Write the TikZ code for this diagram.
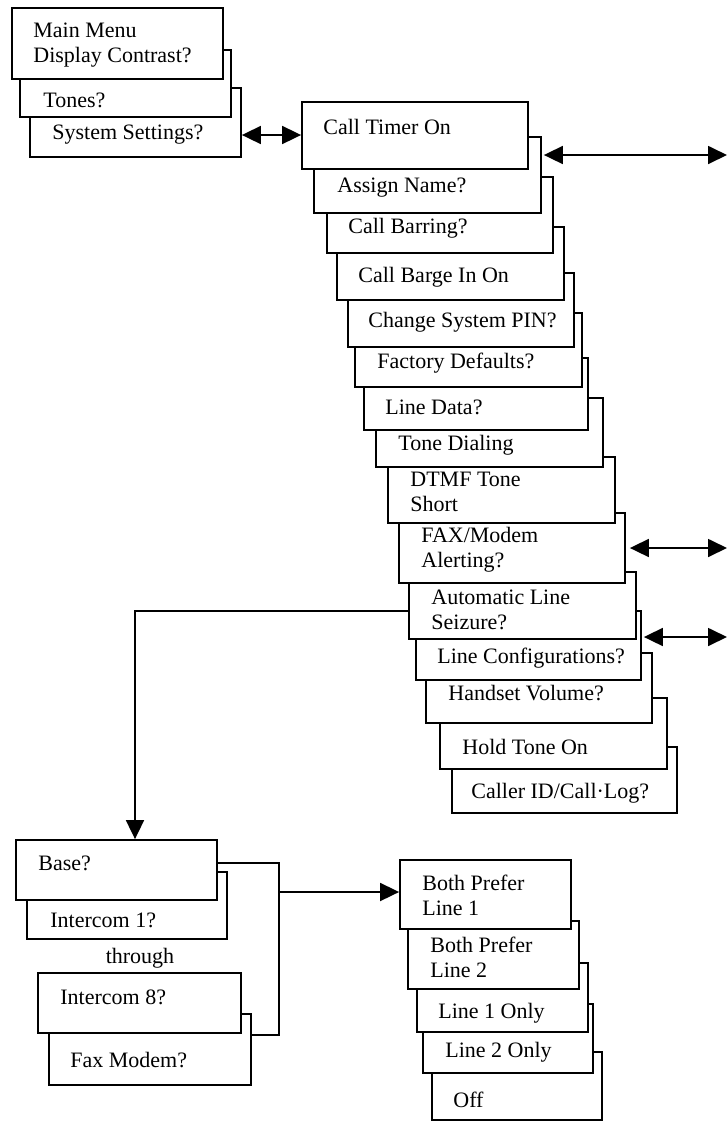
\documentclass[tikz,border=0pt]{standalone}
\usepackage{fontspec}
\setmainfont{Liberation Serif}
\usetikzlibrary{arrows.meta,fit}
\tikzset{>={Triangle[length=9.5pt,width=9pt]}}
\tikzset{card/.style={draw,fill=white,line width=0.9pt,inner sep=0pt},
  lbl/.style={anchor=west,inner sep=0pt,align=left,font=\fontsize{11}{12.5}\selectfont},
  link/.style={line width=0.9pt}}

\begin{document}
\begin{tikzpicture}[x=0.5pt,y=-0.5pt]
  \useasboundingbox (0,0) rectangle (727,1121);

  % main menu stack
  \node[card,fit={(30,88) (241,157)}] (ss) {};
  \node[lbl] (ss-t) at (52,135) {System Settings?};
  \node[card,fit={(20,50) (231,117)}] (tn) {};
  \node[lbl] (tn-t) at (43,100) {Tones?};
  \node[card,fit={(12,8) (223,79)}] (mm) {};
  \node[lbl] (mm-t) at (33,45.5) {Main Menu\\Display Contrast?};

  % system settings stack
  \node[card,fit={(452,747) (677,813)}] (ci) {};
  \node[lbl] (ci-t) at (471,793) {Caller ID/Call·Log?};
  \node[card,fit={(440,698) (667,769)}] (ht) {};
  \node[lbl] (ht-t) at (462,747) {Hold Tone On};
  \node[card,fit={(426,653) (652,723)}] (hv) {};
  \node[lbl] (hv-t) at (448,693) {Handset Volume?};
  \node[card,fit={(416,611) (641,680)}] (lc) {};
  \node[lbl] (lc-t) at (437,658) {Line Configurations?};
  \node[card,fit={(409,572) (636,639)}] (al) {};
  \node[lbl] (al-t) at (431,609.5) {Automatic Line\\Seizure?};
  \node[card,fit={(399,513) (625,583)}] (fm) {};
  \node[lbl] (fm-t) at (421,550) {FAX/Modem\\Alerting?};
  \node[card,fit={(388,457) (615,523)}] (dt) {};
  \node[lbl] (dt-t) at (410,492) {DTMF Tone\\Short};
  \node[card,fit={(376,398) (603,467)}] (td) {};
  \node[lbl] (td-t) at (398,445) {Tone Dialing};
  \node[card,fit={(364,358) (588,430)}] (ld) {};
  \node[lbl] (ld-t) at (385,407) {Line Data?};
  \node[card,fit={(355,313) (582,387)}] (fd) {};
  \node[lbl] (fd-t) at (377,363) {Factory Defaults?};
  \node[card,fit={(348,273) (574,347)}] (pin) {};
  \node[lbl] (pin-t) at (368,322) {Change System PIN?};
  \node[card,fit={(337,227) (564,300)}] (bi) {};
  \node[lbl] (bi-t) at (358,277) {Call Barge In On};
  \node[card,fit={(327,177) (553,253)}] (cb) {};
  \node[lbl] (cb-t) at (348,228) {Call Barring?};
  \node[card,fit={(314,137) (541,213)}] (an) {};
  \node[lbl] (an-t) at (337,188) {Assign Name?};
  \node[card,fit={(302,102) (528,169)}] (ct) {};
  \node[lbl] (ct-t) at (323,127) {Call Timer On};

  % base stack
  \node[card,fit={(49,1014) (251,1085)}] (fx) {};
  \node[lbl] (fx-t) at (70,1060) {Fax Modem?};
  \node[card,fit={(38,973) (241,1033)}] (i8) {};
  \node[lbl] (i8-t) at (60,997) {Intercom 8?};
  \node[lbl,anchor=center] (thr) at (140,958) {through};
  \node[card,fit={(27,872) (227,939)}] (i1) {};
  \node[lbl] (i1-t) at (50,920) {Intercom 1?};
  \node[card,fit={(16,840) (217,900)}] (bs) {};
  \node[lbl] (bs-t) at (38,863) {Base?};

  % line preference stack
  \node[card,fit={(432,1052) (602,1120)}] (off) {};
  \node[lbl] (off-t) at (453,1100) {Off};
  \node[card,fit={(423,1004) (593,1073)}] (l2) {};
  \node[lbl] (l2-t) at (445,1052) {Line 2 Only};
  \node[card,fit={(417,963) (588,1032)}] (l1) {};
  \node[lbl] (l1-t) at (438,1013) {Line 1 Only};
  \node[card,fit={(408,921) (579,989)}] (bp2) {};
  \node[lbl] (bp2-t) at (430,957) {Both Prefer\\Line 2};
  \node[card,fit={(400,860) (571,929)}] (bp1) {};
  \node[lbl] (bp1-t) at (422,895) {Both Prefer\\Line 1};

  % connectors
  \coordinate (r1) at (727,155);
  \coordinate (r2) at (727,548);
  \coordinate (r3) at (727,637);
  \coordinate (k1) at (135,611);
  \coordinate (k2) at (279,892);
  \coordinate (k3) at (279,1035);

  \draw[link,<->] (ss.east |- ss-t) -- (ct.west |- ss-t);
  \draw[link,<->,shorten <=1pt] (an.east |- r1) -- (r1);
  \draw[link,<->,shorten <=2pt] (fm.east |- r2) -- (r2);
  \draw[link,<->,shorten <=1pt] (lc.east |- r3) -- (r3);
  \draw[link,->] (al.west |- k1) -- (k1) -- (k1 |- bs.north);
  \draw[link] (bs.east |- bs-t) -| (k3) -- (fx.east |- k3);
  \draw[link,->] (k2) -- (bp1.west |- k2);
\end{tikzpicture}
\end{document}
